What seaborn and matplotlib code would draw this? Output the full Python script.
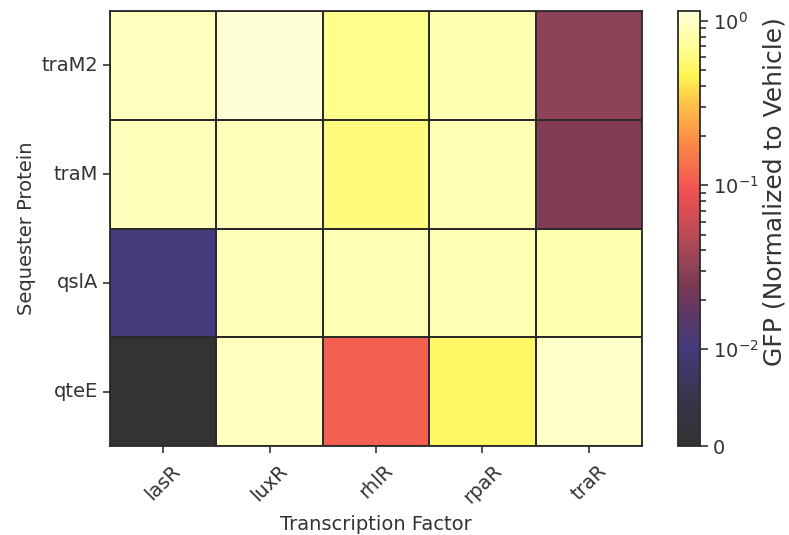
import numpy as np
import pandas as pd
import matplotlib
matplotlib.use("Agg")
import matplotlib.pyplot as plt
import seaborn as sns
from matplotlib.colors import SymLogNorm, LinearSegmentedColormap

factors = ["lasR", "luxR", "rhlR", "rpaR", "traR"]
proteins = ["traM2", "traM", "qslA", "qteE"]
traM2_vals = [0.95, 1.10, 0.65, 0.85, 0.031]
traM_vals = [0.92, 0.92, 0.60, 0.88, 0.027]
qslA_vals = [0.010, 0.92, 0.88, 0.88, 0.85]
qteE_vals = [0.0, 0.95, 0.11, 0.52, 1.0]

data = pd.DataFrame([traM2_vals, traM_vals, qslA_vals, qteE_vals],
                    index=proteins, columns=factors)

TEXT = "#333333"
plt.rcParams["font.family"] = ["DejaVu Sans"]
plt.rcParams["text.color"] = TEXT
plt.rcParams["axes.labelcolor"] = TEXT
plt.rcParams["xtick.color"] = TEXT
plt.rcParams["ytick.color"] = TEXT

cmap = LinearSegmentedColormap.from_list("gfp", [
    (0.00, "#333333"),
    (0.12, "#37354f"),
    (0.22, "#433b7c"),
    (0.30, "#5c3866"),
    (0.37, "#7a3850"),
    (0.41, "#8e4357"),
    (0.50, "#c24a55"),
    (0.59, "#f25252"),
    (0.70, "#fb8a45"),
    (0.78, "#fdbd45"),
    (0.85, "#fff34f"),
    (0.92, "#ffff96"),
    (1.00, "#ffffd8"),
])
norm = SymLogNorm(linthresh=0.01, linscale=0.53, vmin=0, vmax=1.15, base=10)

TOP, BOT = 11, 446
fig = plt.figure(figsize=(7.89, 5.35), dpi=100)
ax = fig.add_axes([110/789, 1-BOT/535, 532/789, (BOT-TOP)/535])
cax = fig.add_axes([678/789, 1-BOT/535, 22/789, (BOT-TOP)/535])

sns.heatmap(data, ax=ax, cbar_ax=cax, cmap=cmap, norm=norm,
            linewidths=1.3, linecolor="#2a2a2a", square=False,
            cbar_kws={"label": "GFP (Normalized to Vehicle)"})

for s in ax.spines.values():
    s.set_visible(True)
    s.set_color("#2a2a2a")
    s.set_linewidth(1.3)

ax.set_xlabel("Transcription Factor", fontsize=14, labelpad=6)
ax.set_ylabel("Sequester Protein", fontsize=14)
ax.set_xticklabels(factors, rotation=45, fontsize=14)
ax.set_yticklabels(proteins, rotation=0, fontsize=14)
ax.tick_params(length=5, width=1.2, color=TEXT)
ax.tick_params(axis="x", pad=6)

cbar = ax.collections[0].colorbar
cbar.set_ticks([0, 0.01, 0.1, 1])
cbar.set_ticklabels(["0", "$10^{-2}$", "$10^{-1}$", "$10^{0}$"])
minor = [k * 10.0**e for e in (-2, -1) for k in range(2, 10)]
cbar.set_ticks(minor, minor=True)
cbar.ax.tick_params(which="major", labelsize=14, length=6, width=1.2, color=TEXT)
cbar.ax.tick_params(which="minor", length=4, width=1.2, color=TEXT)
cbar.outline.set_edgecolor("#2a2a2a")
cbar.outline.set_linewidth(1.3)
cbar.ax.yaxis.label.set_size(18)
cbar.ax.yaxis.set_label_coords(3.86, 0.585)

fig.savefig("out.png", dpi=100)
